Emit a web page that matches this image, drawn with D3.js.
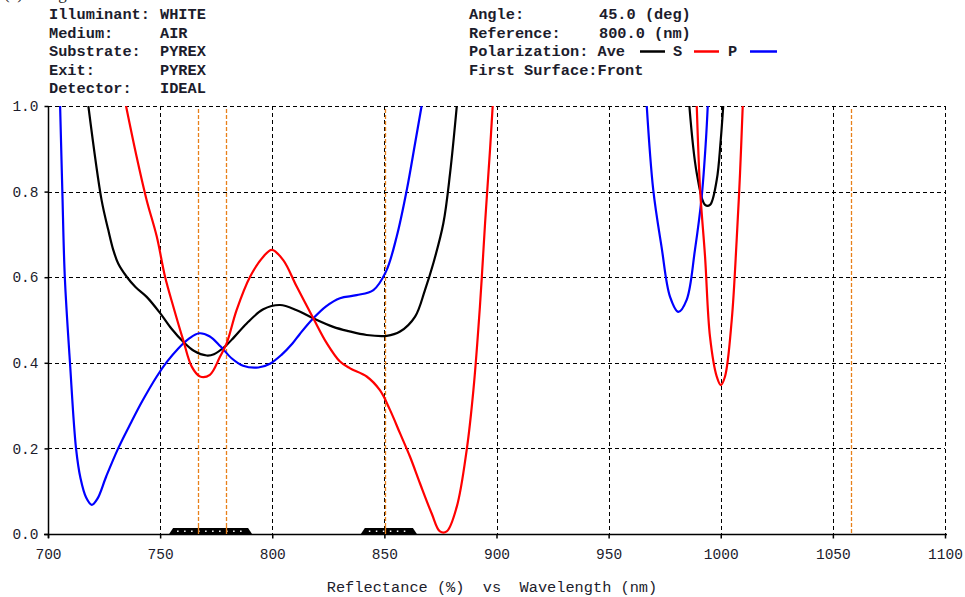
<!DOCTYPE html>
<html><head><meta charset="utf-8">
<script src="https://cdn.jsdelivr.net/npm/d3@7"></script>
<style>
body{margin:0;background:#fff;}
svg{display:block;}
text{font-family:"Liberation Mono","Courier New",monospace;}
</style></head>
<body><svg id="c" width="965" height="597"></svg>
<script>
// ---- data ----
const xTicks = [700,750,800,850,900,950,1000,1050,1100];
const yTicks = [0.0,0.2,0.4,0.6,0.8,1.0];
const markerLines = [766.8,779.3,850.1,1058.1];
const bandRanges = [[754,791],[839.5,864.5]];

// Ave (black), null = gap
const aveWl = [718,723.9,726.9,729.1,731.3,735.1,739,744,750,755,760.3,765,770.8,774,778.9,783,788.6,796,803.5,810.9,818.3,827.2,834,842.1,851,857,863.7,868.1,871.8,876.3,879.3,882.3,
  null,986,989.3,993,995.2,998.2,1000,1001.1];
const aveR  = [1.0,0.78,0.71,0.664,0.632,0.601,0.577,0.554,0.516,0.48,0.449,0.428,0.417,0.42,0.438,0.46,0.492,0.525,0.535,0.523,0.504,0.484,0.474,0.465,0.463,0.473,0.508,0.57,0.632,0.726,0.843,1.0,
  null,1.0,0.843,0.769,0.769,0.827,0.921,1.0];

// S (red)
const sWl = [734.8,739.5,744,748.5,752.2,755.9,760.3,764.1,767.8,772.2,776.7,779.7,784.1,790.1,796,799.8,804.9,810.9,818.3,824.3,830.2,834.7,842.1,848,852.5,857,861.4,865.9,871.1,874.8,877.8,882.3,886.7,889.7,892.6,894.9,897.1,898.3,
  null,989.3,990.8,993,995.2,998.2,1000,1001.9,1004.9,1007.1,1008.6,1009.8];
const sR  = [1.0,0.882,0.78,0.695,0.601,0.531,0.453,0.391,0.368,0.372,0.414,0.446,0.523,0.601,0.648,0.664,0.64,0.578,0.504,0.446,0.403,0.387,0.368,0.336,0.29,0.235,0.181,0.118,0.048,0.006,0.006,0.064,0.196,0.336,0.531,0.726,0.897,1.0,
  null,1.0,0.804,0.648,0.461,0.368,0.348,0.368,0.5,0.687,0.843,1.0];

// P (blue)
const pWl = [705.4,706.4,707.5,709.8,712.5,714.5,717,719.5,722,726,731.3,737,742,748.5,753,758,763,767.5,772,777,782,787,793.8,799,804,809,812.4,818.3,824,830.2,837.6,845.1,850.7,855.5,860,863.7,866.6,
  null,967,969.9,973.6,977.4,981.1,984.8,988.5,991.5,993.4,994.2];
const pR  = [1.0,0.8,0.6,0.4,0.2,0.13,0.085,0.068,0.082,0.135,0.2,0.26,0.31,0.368,0.402,0.433,0.457,0.469,0.462,0.438,0.41,0.393,0.389,0.398,0.418,0.445,0.468,0.504,0.532,0.551,0.558,0.57,0.613,0.695,0.804,0.913,1.0,
  null,1.0,0.804,0.671,0.554,0.519,0.547,0.664,0.788,0.921,1.0];

const headerLeft = [["Illuminant:","WHITE"],["Medium:","AIR"],["Substrate:","PYREX"],["Exit:","PYREX"],["Detector:","IDEAL"]];
const headerRight = [["Angle:","45.0 (deg)"],["Reference:","800.0 (nm)"]];
const xTitle = "Reflectance (%)  vs  Wavelength (nm)";

// ---- drawing ----
const svg = d3.select("#c");
const L=48,R=945,T=106,B=534;
const x = d3.scaleLinear().domain([700,1100]).range([L,R]);
const y = d3.scaleLinear().domain([0,1]).range([B,T]);
const ink = "#1c1c2c";
const mono = "'Liberation Mono','Courier New',monospace";

// top-left caption (cut off by the top edge, as in the source image)
svg.append("text").attr("x",4).attr("y",-1)
  .style("font-family","'Liberation Serif',serif").attr("font-size",17).attr("fill","#222").text("(a)       Design");

// header
const hdr = svg.append("g").attr("font-size",15.3).attr("font-weight","bold").attr("fill",ink).style("font-family",mono);
const rowY = i => 19 + i*18.5;
headerLeft.forEach((d,i)=>{
  hdr.append("text").attr("x",49).attr("y",rowY(i)).text(d[0]);
  hdr.append("text").attr("x",160).attr("y",rowY(i)).text(d[1]);
});
headerRight.forEach((d,i)=>{
  hdr.append("text").attr("x",469).attr("y",rowY(i)).text(d[0]);
  hdr.append("text").attr("x",599).attr("y",rowY(i)).text(d[1]);
});
hdr.append("text").attr("x",469).attr("y",rowY(2)).text("Polarization: Ave");
hdr.append("text").attr("x",673).attr("y",rowY(2)).text("S");
hdr.append("text").attr("x",728).attr("y",rowY(2)).text("P");
hdr.append("text").attr("x",469).attr("y",rowY(3)).text("First Surface:Front");
const legY = rowY(2)-4.5;
[[640,665,"#000"],[694,719,"#ff0000"],[750,777,"#0000ff"]].forEach(d=>{
  svg.append("line").attr("x1",d[0]).attr("x2",d[1]).attr("y1",legY).attr("y2",legY)
    .attr("stroke",d[2]).attr("stroke-width",2.5);
});

// grid
const grid = svg.append("g").attr("stroke","#000").attr("stroke-width",1).attr("stroke-dasharray","4,3");
xTicks.filter(v=>v>700).forEach(v=>{
  grid.append("line").attr("x1",Math.round(x(v))+0.5).attr("x2",Math.round(x(v))+0.5).attr("y1",T).attr("y2",B);
});
yTicks.filter(v=>v>0).forEach(v=>{
  grid.append("line").attr("x1",L).attr("x2",R).attr("y1",Math.round(y(v))+0.5).attr("y2",Math.round(y(v))+0.5);
});

// axes
const xAxis = svg.append("g").attr("transform",`translate(0,${B+0.5})`)
  .call(d3.axisBottom(x).tickValues(xTicks).tickSize(4).tickSizeOuter(0).tickPadding(10).tickFormat(d3.format("d")));
const yAxis = svg.append("g").attr("transform",`translate(${L+0.5},0)`)
  .call(d3.axisLeft(y).tickValues(yTicks).tickSize(4).tickSizeOuter(0).tickPadding(6).tickFormat(d3.format(".1f")));
[xAxis,yAxis].forEach(a=>{
  a.attr("font-family",null).style("font-family",mono).attr("font-size",14.5);
  a.select(".domain").attr("stroke","#000").attr("stroke-width",1.5);
  a.selectAll(".tick line").attr("stroke","#000").attr("stroke-width",1.5);
  a.selectAll("text").style("font-family",mono).attr("font-size",14.5).attr("fill",ink);
});
yAxis.select(".domain").attr("d",`M0,${T}V${B+4}`);
xAxis.select(".domain").attr("d",`M${L-4},0H${R+2}`);

// orange markers
svg.append("g").selectAll("line").data(markerLines).join("line")
  .attr("x1",d=>Math.round(x(d))+0.5).attr("x2",d=>Math.round(x(d))+0.5)
  .attr("y1",T+3).attr("y2",B).attr("stroke","#e8801a").attr("stroke-width",1.3).attr("stroke-dasharray","4,2");

// curves
svg.append("clipPath").attr("id","pc").append("rect").attr("x",L).attr("y",T).attr("width",R-L).attr("height",B-T+2);
const line = d3.line().defined(d=>d[1]!==null).x(d=>x(d[0])).y(d=>y(d[1])).curve(d3.curveCatmullRom.alpha(0.5));
function series(wl,vals,color){
  const pts = wl.map((w,i)=>[w,vals[i]]);
  svg.append("path").attr("clip-path","url(#pc)").attr("d",line(pts))
    .attr("fill","none").attr("stroke",color).attr("stroke-width",2.2).attr("stroke-linejoin","round");
}
series(aveWl,aveR,"#000");
series(pWl,pR,"#0000ff");
series(sWl,sR,"#ff0000");

// bottom bands
const bands = svg.append("g");
bandRanges.forEach(r=>{
  const x0=x(r[0]), x1=x(r[1]);
  bands.append("path").attr("d",`M${x0},${B} L${x0+4},${B-6} L${x1-4},${B-6} L${x1},${B} Z`).attr("fill","#000");
  const n = Math.floor((x1-x0-16)/7);
  for(let i=0;i<=n;i++){
    bands.append("rect").attr("x",x0+8+i*7).attr("y",B-3.5).attr("width",1.5).attr("height",1.5).attr("fill","#fff");
  }
});
svg.append("g").selectAll("line").data(markerLines.filter(v=>v<900)).join("line")
  .attr("x1",d=>Math.round(x(d))+0.5).attr("x2",d=>Math.round(x(d))+0.5)
  .attr("y1",B-7).attr("y2",B).attr("stroke","#e8801a").attr("stroke-width",1.3);

// x title
svg.append("text").attr("x",492).attr("y",592).attr("text-anchor","middle").style("font-family",mono)
  .attr("font-size",15.3).attr("fill",ink).style("white-space","pre").text(xTitle);
</script></body></html>
